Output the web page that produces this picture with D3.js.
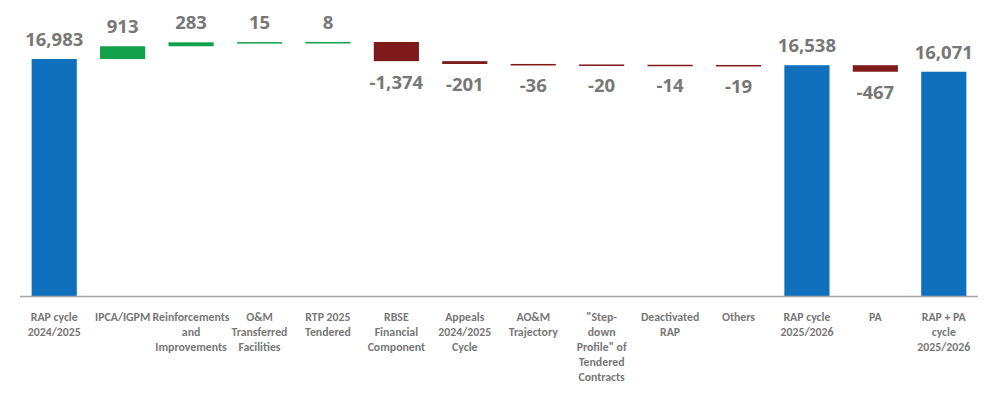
<!DOCTYPE html>
<html>
<head>
<meta charset="utf-8">
<script src="https://cdn.jsdelivr.net/npm/d3@7"></script>
<style>
  body { margin: 0; background: #fff; }
  text { font-weight: bold; fill: #777777; }
  text.val { font-family: "Open Sans", sans-serif; }
  text.cat { font-family: Carlito, Calibri, Lato, sans-serif; }
</style>
</head>
<body>
<div id="chart"></div>
<script>
// categories (line breaks as in the original axis)
var categories = [
  "RAP cycle\n2024/2025",
  "IPCA/IGPM",
  "Reinforcements\nand\nImprovements",
  "O&M\nTransferred\nFacilities",
  "RTP 2025\nTendered",
  "RBSE\nFinancial\nComponent",
  "Appeals\n2024/2025\nCycle",
  "AO&M\nTrajectory",
  "\"Step-\ndown\nProfile\" of\nTendered\nContracts",
  "Deactivated\nRAP",
  "Others",
  "RAP cycle\n2025/2026",
  "PA",
  "RAP + PA\ncycle\n2025/2026"
];
var values = [16983, 913, 283, 15, 8, -1374, -201, -36, -20, -14, -19, 16538, -467, 16071];
var isTotal = [true, false, false, false, false, false, false, false, false, false, false, true, false, true];

var w = 989, h = 396;
var baseY = 296;

var svg = d3.select("#chart").append("svg")
  .attr("width", w)
  .attr("height", h);

var x = d3.scaleBand()
  .domain(categories)
  .range([20, 978])
  .paddingInner(0.34)
  .paddingOuter(0.17);

var y = d3.scaleLinear()
  .domain([0, 20000])
  .range([baseY, baseY - 20000 * 0.013955]);

// running totals
var run = 0;
var steps = categories.map(function (c, i) {
  var start, end;
  if (isTotal[i]) { start = 0; end = values[i]; run = values[i]; }
  else { start = run; end = run + values[i]; run = end; }
  return { cat: c, v: values[i], start: start, end: end, total: isTotal[i] };
});

function color(d) {
  if (d.total) return "#1170bd";
  return d.v >= 0 ? "#13a04b" : "#7f1a1a";
}

svg.selectAll("rect.bar")
  .data(steps)
  .enter().append("rect")
  .attr("class", "bar")
  .attr("x", function (d) { return x(d.cat); })
  .attr("width", x.bandwidth())
  .attr("y", function (d) { return y(Math.max(d.start, d.end)); })
  .attr("height", function (d) { return Math.max(1.5, Math.abs(y(d.start) - y(d.end))); })
  .style("fill", color);

// axis line
svg.append("line")
  .attr("x1", 20).attr("x2", 978)
  .attr("y1", baseY + 0.5).attr("y2", baseY + 0.5)
  .attr("stroke", "#a6a6a6")
  .attr("stroke-width", 1.5);

// value labels
var fmt = d3.format(",");
svg.selectAll("text.val")
  .data(steps)
  .enter().append("text")
  .attr("class", "val")
  .attr("x", function (d) { return x(d.cat) + x.bandwidth() / 2; })
  .attr("y", function (d) {
    if (d.v >= 0) return y(Math.max(d.start, d.end)) - 13;
    return y(Math.min(d.start, d.end)) + 27.5;
  })
  .attr("text-anchor", "middle")
  .attr("font-size", 18.5)
  .text(function (d) { return fmt(d.v).replace("\u2212", "-"); });

// category labels
var labels = svg.selectAll("text.cat")
  .data(steps)
  .enter().append("text")
  .attr("class", "cat")
  .attr("text-anchor", "middle")
  .attr("font-size", 11.8)
  .attr("x", function (d) { return x(d.cat) + x.bandwidth() / 2; })
  .attr("y", 321);

labels.selectAll("tspan")
  .data(function (d) { return d.cat.split("\n").map(function (t) { return { t: t, x: x(d.cat) + x.bandwidth() / 2 }; }); })
  .enter().append("tspan")
  .attr("x", function (d) { return d.x; })
  .attr("dy", function (d, i) { return i === 0 ? 0 : 15; })
  .text(function (d) { return d.t; });
</script>
</body>
</html>
